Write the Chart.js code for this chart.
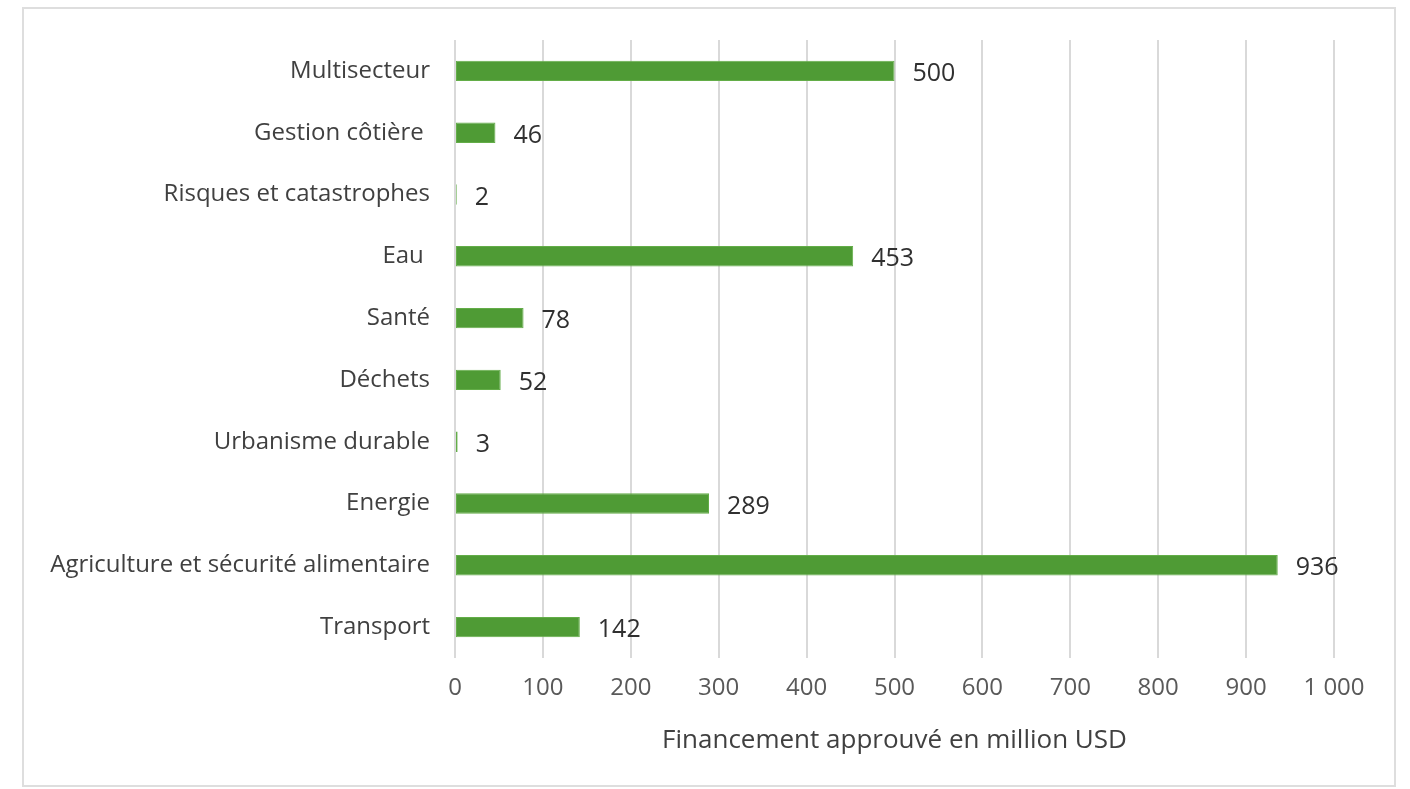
<!DOCTYPE html>
<html lang="fr">
<head>
<meta charset="utf-8">
<title>Financement approuvé par secteur</title>
<script src="https://cdn.jsdelivr.net/npm/chart.js@4/dist/chart.umd.min.js"></script>
<style>
  html, body { margin: 0; padding: 0; background: #ffffff; }
  #frame {
    position: absolute; left: 22px; top: 7px; width: 1374px; height: 780px;
    border: 2px solid #dedede; box-sizing: border-box;
  }
  #wrap { position: absolute; left: 0; top: 0; width: 1410px; height: 789px; }
</style>
</head>
<body>
<div id="frame"></div>
<div id="wrap"><canvas id="chart" width="1410" height="789"></canvas></div>
<script>
// Secteurs, de haut en bas
const sectors = [
  "Multisecteur",
  "Gestion côtière ",
  "Risques et catastrophes",
  "Eau ",
  "Santé",
  "Déchets",
  "Urbanisme durable",
  "Energie",
  "Agriculture et sécurité alimentaire",
  "Transport"
];
// Financement approuvé (million USD)
const funding = [500, 46, 2, 453, 78, 52, 3, 289, 936, 142];
const axisMin = 0;
const axisMax = 1000;
const axisStep = 100;
const axisTitle = "Financement approuvé en million USD";

const FONT = "'Open Sans', 'Noto Sans', sans-serif";

// Formats 1000 as "1 000"
function frNumber(v) {
  return String(v).replace(/\B(?=(\d{3})+(?!\d))/g, " ");
}

// Writes each bar's value just past its end
const valueLabels = {
  id: "valueLabels",
  afterDatasetsDraw(chart) {
    const ctx = chart.ctx;
    const meta = chart.getDatasetMeta(0);
    ctx.save();
    ctx.font = "25px " + FONT;
    ctx.fillStyle = "#303030";
    ctx.textAlign = "left";
    ctx.textBaseline = "middle";
    meta.data.forEach((bar, i) => {
      ctx.fillText(frNumber(funding[i]), bar.x + 18, bar.y + 3);
    });
    ctx.restore();
  }
};

new Chart(document.getElementById("chart"), {
  type: "bar",
  data: {
    labels: sectors,
    datasets: [{
      data: funding,
      backgroundColor: "#4f9b35",
      borderColor: "#63ad48",
      borderWidth: 1,
      borderSkipped: false,
      barPercentage: 0.66,
      categoryPercentage: 0.5
    }]
  },
  options: {
    indexAxis: "y",
    responsive: false,
    animation: false,
    devicePixelRatio: 1,
    layout: { padding: { top: 40, right: 76, bottom: 0, left: 0 } },
    plugins: {
      legend: { display: false },
      tooltip: { enabled: false }
    },
    scales: {
      x: {
        min: axisMin,
        max: axisMax,
        ticks: {
          stepSize: axisStep,
          padding: 16,
          color: "#595959",
          font: { family: FONT, size: 24 },
          callback: (v) => frNumber(v)
        },
        grid: { color: "#d9d9d9", lineWidth: 2, drawTicks: false },
        border: { display: false },
        title: {
          display: true,
          text: axisTitle,
          color: "#404040",
          font: { family: FONT, size: 26 },
          padding: { top: 0, bottom: 33 }
        },
        afterFit(scale) { scale.height = 131; }
      },
      y: {
        ticks: {
          padding: 25,
          color: "#404040",
          font: { family: FONT, size: 24 }
        },
        grid: { display: false, drawTicks: false },
        border: { display: false },
        afterFit(scale) { scale.width = 455; }
      }
    }
  },
  plugins: [valueLabels]
});
</script>
</body>
</html>
